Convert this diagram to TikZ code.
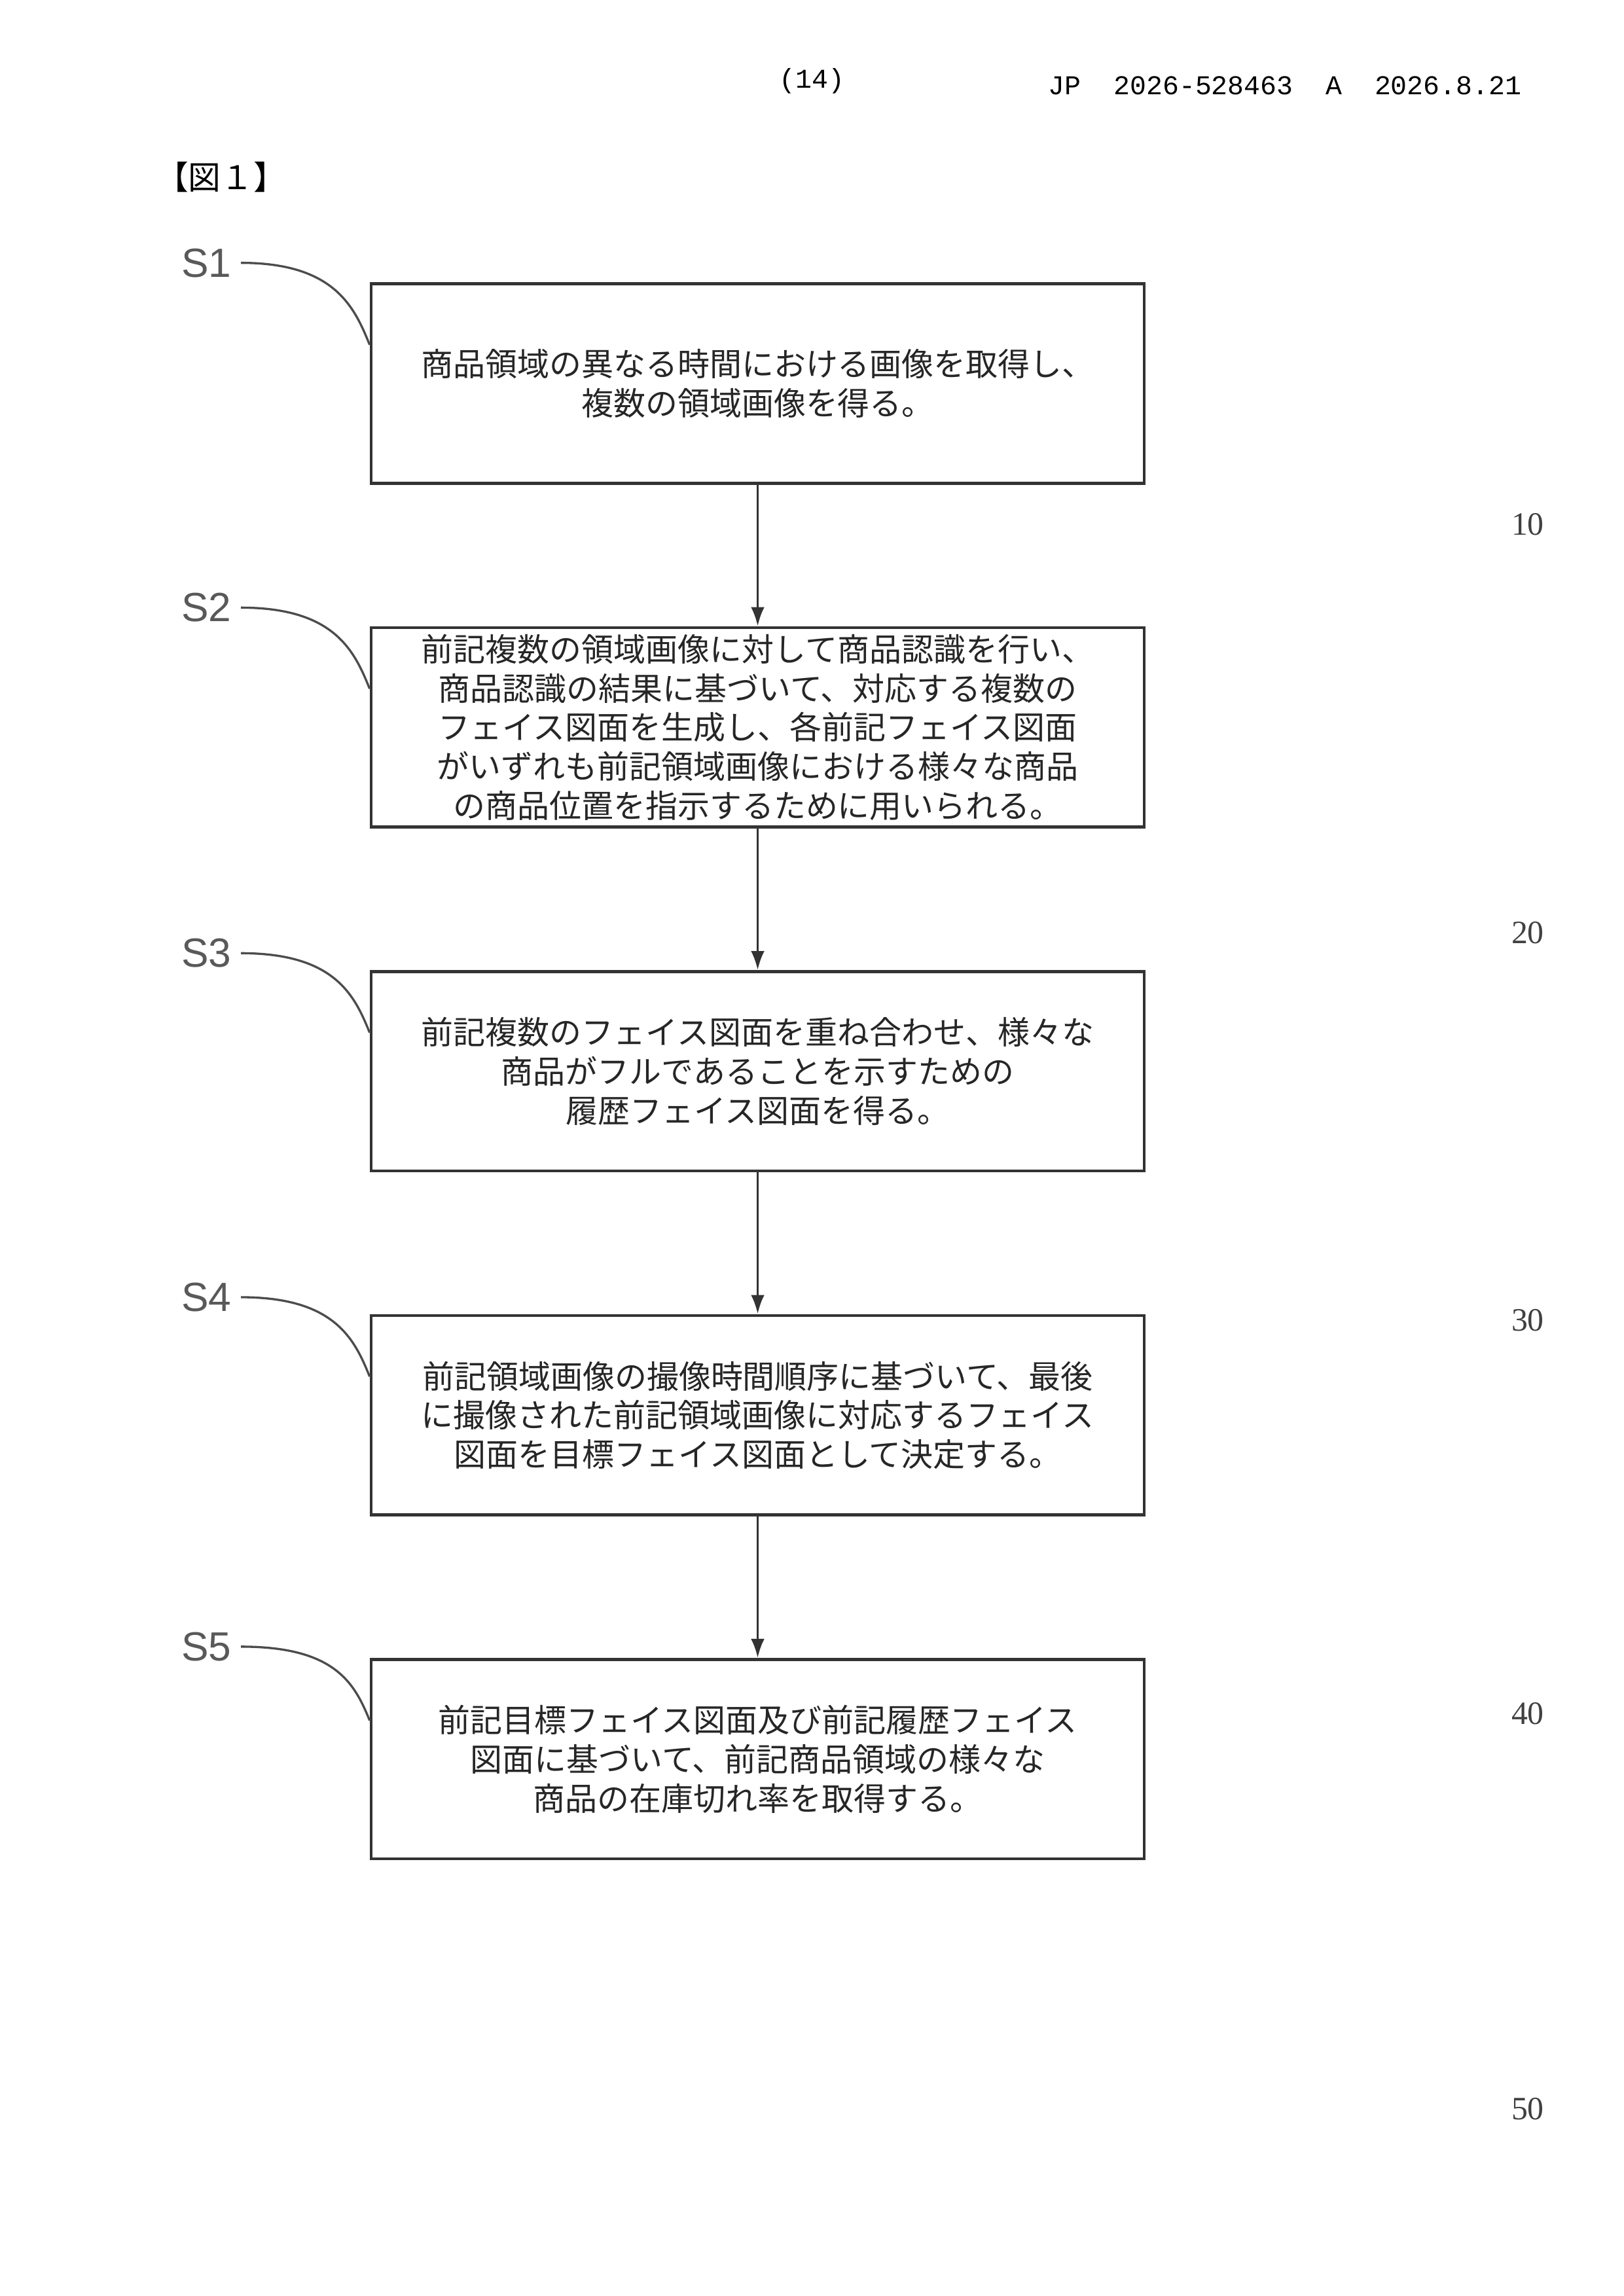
\documentclass[tikz,border=0pt]{standalone}
\usepackage{fontspec}
\setmainfont{Liberation Serif}
\setsansfont{Liberation Sans}
\setmonofont{Liberation Mono}
\newfontfamily\jpfont{Noto Sans CJK JP}
\usetikzlibrary{positioning,arrows.meta}
\begin{document}
\begin{tikzpicture}[
        stepbox/.style={draw=black!80, line width=1.1pt, minimum width=10cm, minimum height=2.58cm,
            align=center, inner sep=1pt, font=\jpfont\fontsize{11.8}{14.4}\selectfont, text=black!85},
        slabel/.style={font=\sffamily\fontsize{15}{15}\selectfont, text=black!65},
        lineno/.style={font=\fontsize{12}{12}\selectfont, text=black!75},
        leader/.style={draw=black!70, line width=0.8pt},
        flow/.style={draw=black!80, line width=0.9pt, -{Latex[length=7pt,width=5pt]}},
    ]
    \useasboundingbox (0,0) rectangle (21,-29.7);
    % header
    \node[font=\ttfamily\fontsize{10}{10}\selectfont] (page) at (10.5,-1.05) {(14)};
    \node[font=\ttfamily\fontsize{10}{10}\selectfont] (pubno) at (16.62,-1.11) {JP\ \ 2026-528463\ \ A\ \ 2026.8.21};
    \node[font=\jpfont\fontsize{12}{12}\selectfont] (fig) at (2.86,-2.29) {【図１】};
    % steps
    \node[stepbox] (s1) at (9.8,-4.96) {商品領域の異なる時間における画像を取得し、\\複数の領域画像を得る。};
    \node[stepbox, below=1.83cm of s1] (s2) {前記複数の領域画像に対して商品認識を行い、\\商品認識の結果に基づいて、対応する複数の\\フェイス図面を生成し、各前記フェイス図面\\がいずれも前記領域画像における様々な商品\\の商品位置を指示するために用いられる。};
    \node[stepbox, below=1.83cm of s2] (s3) {前記複数のフェイス図面を重ね合わせ、様々な\\商品がフルであることを示すための\\履歴フェイス図面を得る。};
    \node[stepbox, below=1.83cm of s3] (s4) {前記領域画像の撮像時間順序に基づいて、最後\\に撮像された前記領域画像に対応するフェイス\\図面を目標フェイス図面として決定する。};
    \node[stepbox, below=1.83cm of s4] (s5) {前記目標フェイス図面及び前記履歴フェイス\\図面に基づいて、前記商品領域の様々な\\商品の在庫切れ率を取得する。};
    % labels and leaders
    \foreach \i/\y in {1/-3.40, 2/-7.86, 3/-12.33, 4/-16.78, 5/-21.30}{
        \node[slabel] (l\i) at (2.67,\y) {S\i};
        \draw[leader] (l\i.east) .. controls +(1.2,0) and +(-0.2,0.5) .. ([yshift=0.5cm]s\i.west);
    }
    % arrows
    \draw[flow] (s1) -- (s2);
    \draw[flow] (s2) -- (s3);
    \draw[flow] (s3) -- (s4);
    \draw[flow] (s4) -- (s5);
    % line numbers
    \node[lineno] (n10) at (19.76,-6.78) {10};
    \node[lineno] (n20) at (19.76,-12.07) {20};
    \node[lineno] (n30) at (19.76,-17.08) {30};
    \node[lineno] (n40) at (19.76,-22.17) {40};
    \node[lineno] (n50) at (19.76,-27.28) {50};
\end{tikzpicture}
\end{document}
